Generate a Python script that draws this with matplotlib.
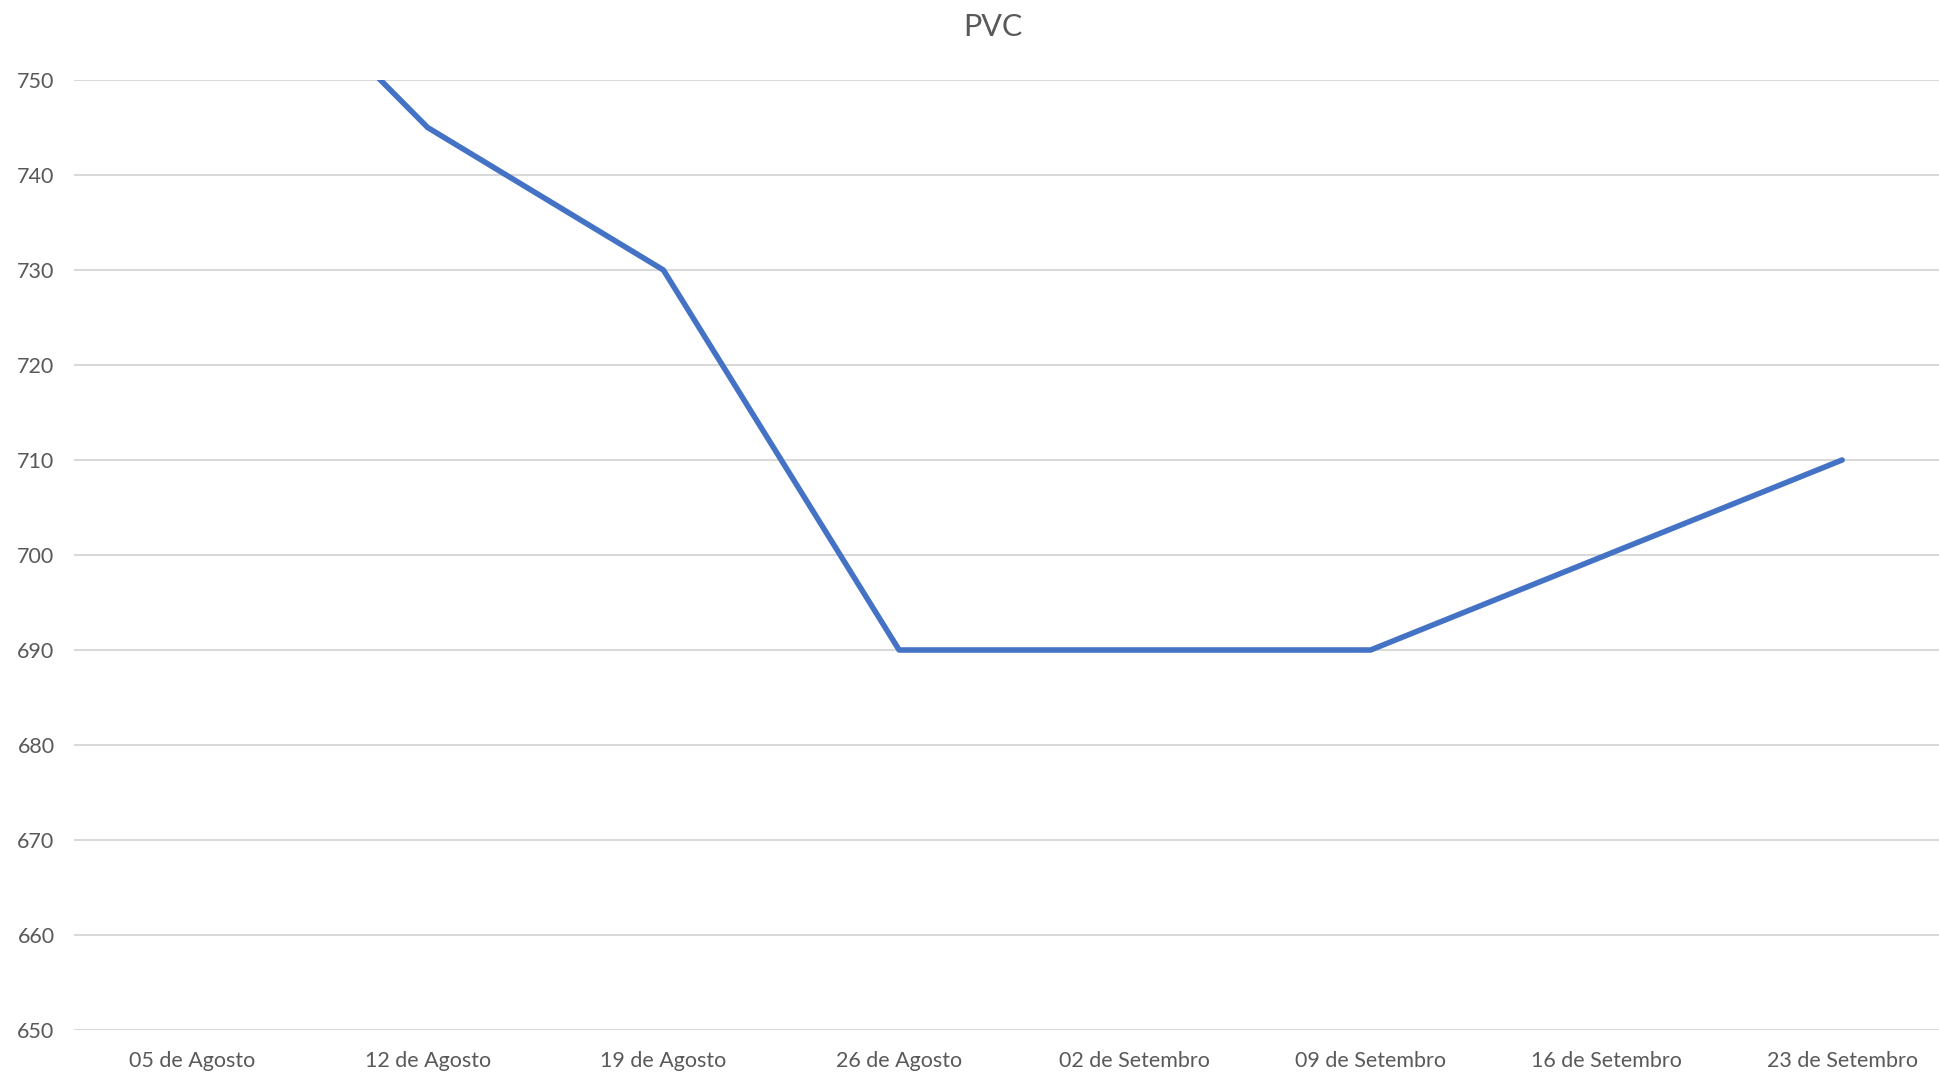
import matplotlib
matplotlib.use("Agg")
import matplotlib.pyplot as plt

categories = ["05 de Agosto", "12 de Agosto", "19 de Agosto", "26 de Agosto",
              "02 de Setembro", "09 de Setembro", "16 de Setembro", "23 de Setembro"]
values = [770, 745, 730, 690, 690, 690, 700, 710]
yticks = [650, 660, 670, 680, 690, 700, 710, 720, 730, 740, 750]

plt.rcParams['font.family'] = ['Lato', 'DejaVu Sans']
W, H = 1939, 1074
fig = plt.figure(figsize=(W / 100, H / 100), dpi=100)
left, right = 74 / W, 1960 / W
bottom, top = 1 - 1030 / H, 1 - 80 / H
ax = fig.add_axes([left, bottom, right - left, top - bottom])

x = list(range(len(categories)))
ax.plot(x, values, color="#4472C4", lw=4.0, solid_joinstyle="round",
        solid_capstyle="round", zorder=3)
ax.set_xlim(-0.5, len(categories) - 0.5)
ax.set_ylim(650, 750)
ax.set_yticks(yticks)
ax.set_xticks(x)
ax.set_xticklabels(categories)
ax.grid(axis="y", color="#D9D9D9", lw=1.5)
ax.set_axisbelow(True)
for s in ax.spines.values():
    s.set_visible(False)
ax.tick_params(axis="both", length=0, colors="#595959", labelsize=15.5)
ax.tick_params(axis="y", pad=14)
ax.tick_params(axis="x", pad=15)

fig.text(993 / W, 1 - 27 / H, "PVC", ha="center", va="center",
         fontsize=22, color="#595959")
fig.savefig("out.png", dpi=100, facecolor="white")
